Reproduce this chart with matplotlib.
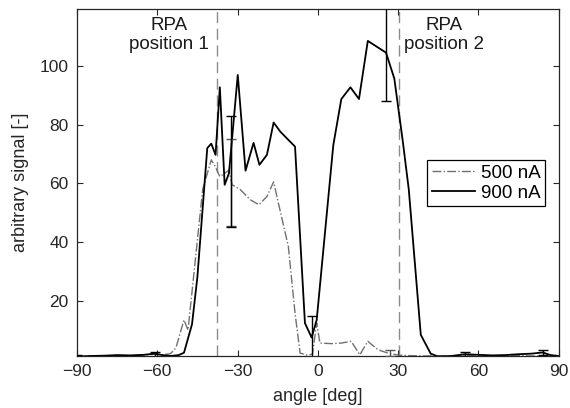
import matplotlib
matplotlib.use("Agg")
import matplotlib.pyplot as plt

plt.rcParams['font.family'] = ['Liberation Sans', 'DejaVu Sans']

# ---- data ----
angle_900 = [-90, -85, -80, -75, -70, -65, -61, -58, -55, -52, -50, -47, -45,
             -41.3, -39.8, -38.2, -36.6, -34.8, -33.2, -29.9, -27, -24, -21.8,
             -19, -16.5, -14, -11, -8.5, -4.8, -2.3, -0.4, 5.8, 8.8, 12.2, 15.4,
             18.7, 25.5, 28.6, 31.7, 34.0, 38.5, 42.2, 45, 50, 55, 60, 65, 70,
             75, 80, 84, 87, 90]
signal_900 = [1.0, 1.2, 1.3, 1.5, 1.4, 1.6, 2.0, 1.5, 1.2, 1.5, 2.3, 12, 28,
              72, 73.5, 69.7, 92.7, 59.5, 63.4, 96.9, 64.3, 73.8, 66.3,
              69.7, 80.7, 77.6, 74.8, 72.5, 12.4, 7.5, 13.5, 73, 88.7, 92.7, 88.7,
              108.5, 104.5, 95.7, 74.8, 58, 8.4, 2.0, 1.0, 1.2, 1.8, 1.6, 1.4, 1.5,
              1.8, 2.0, 2.4, 1.5, 1.2]

angle_500 = [-90, -85, -80, -75, -70, -65, -61, -58, -55, -53, -50, -48.5, -43,
             -39.8, -38.3, -36.6, -34.8, -33.2, -32, -28.9, -25.2, -22, -19,
             -16.5, -14.7, -11, -8.5, -6.6, -4, -2, -0.4, 0.8, 5.1, 8.8, 12.5,
             15.7, 18.7, 22.5, 26.2, 30, 35, 40, 45, 50, 55, 60, 65, 70, 75, 80,
             85, 90]
signal_500 = [1.0, 1.1, 1.2, 1.3, 1.3, 1.5, 1.8, 1.6, 2.0, 4.0, 13.5, 10, 58,
              68, 65.7, 62.3, 63.4, 64.5, 59.5, 57.8, 54.4, 52.7, 55.5,
              60.5, 53.2, 38.5, 15.8, 2.2, 1.5, 1.8, 12.4, 5.6, 5.4, 5.6, 6.2,
              1.6, 6.2, 3.3, 2.2, 1.5, 1.3, 1.2, 1.3, 1.2, 1.3, 1.2, 1.1, 1.2, 1.3, 1.2,
              1.1, 1.0]

err_angle_900 = [-90, -61, -32.6, -2.3, 25.5, 55, 84]
err_value_900 = [1.0, 1.8, 64, 7.5, 104.5, 1.8, 2.4]
err_size_900 = [0.6, 0.8, 19, 7.2, 16.5, 0.8, 1.0]

err_angle_500 = [-32.4, 27]
err_value_500 = [60.3, 2.2]
err_size_500 = [14.7, 0.9]

rpa_positions = [-37.5, 30.5]
rpa_labels = ['RPA\nposition 1', 'RPA\nposition 2']
rpa_label_x = [-55.5, 47.3]

xticks = [-90, -60, -30, 0, 30, 60, 90]
yticks = [20, 40, 60, 80, 100]

# ---- figure ----
fig = plt.figure(figsize=(5.7, 4.08), dpi=100)
ax = fig.add_axes([0.135, 0.1275, 0.845, 0.85])

for xp in rpa_positions:
    ax.axvline(xp, color='#8c8c8c', lw=1.0, ls=(0, (8, 4)), zorder=1)

ax.plot(angle_500, signal_500, color='#707070', lw=1.0, ls='-.', label='500 nA', zorder=2)
ax.plot(angle_900, signal_900, color='black', lw=1.3, ls='-', label='900 nA', zorder=3)

ax.errorbar(err_angle_500, err_value_500, yerr=err_size_500, fmt='none',
            ecolor='#555555', elinewidth=1.0, capsize=3.5, capthick=1.0, zorder=3)
ax.errorbar(err_angle_900, err_value_900, yerr=err_size_900, fmt='none',
            ecolor='black', elinewidth=1.0, capsize=3.5, capthick=1.0, zorder=4)

for lx, lab in zip(rpa_label_x, rpa_labels):
    ax.text(lx, 116.8, lab, ha='center', va='top', fontsize=13.5,
            color='#1a1a1a', linespacing=1.2)

ax.set_xlim(-90, 90)
ax.set_ylim(1.2, 119.3)
ax.set_xticks(xticks)
ax.set_yticks(yticks)
ax.tick_params(direction='in', top=True, right=True, length=4, width=0.8,
               labelsize=12.5, colors='#262626', pad=6)
for s in ax.spines.values():
    s.set_linewidth(0.9)
    s.set_color('#262626')

ax.set_xlabel('angle [deg]', fontsize=13, color='#262626', labelpad=6)
ax.set_ylabel('arbitrary signal [-]', fontsize=13, color='#262626', labelpad=8)

leg = ax.legend(loc='upper left', bbox_to_anchor=(0.727, 0.565), fontsize=13.5,
                frameon=True, fancybox=False, edgecolor='black', framealpha=1,
                handlelength=2.3, handletextpad=0.3, borderpad=0.25,
                labelspacing=0.15, borderaxespad=0)
leg.get_frame().set_linewidth(0.9)

fig.savefig('out.png', dpi=100)
